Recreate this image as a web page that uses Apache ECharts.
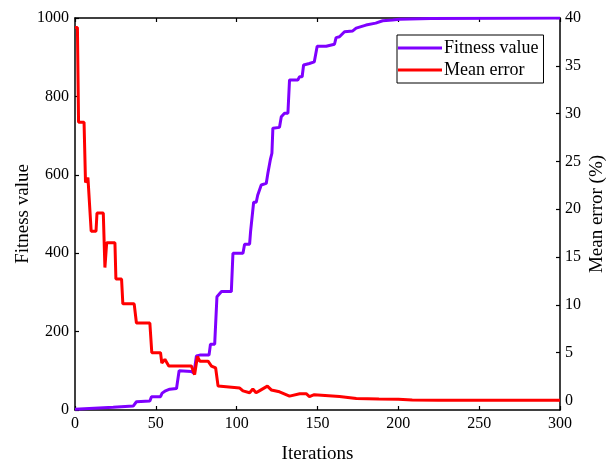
<!DOCTYPE html>
<html>
<head>
<meta charset="utf-8">
<script src="https://cdn.jsdelivr.net/npm/echarts@6/dist/echarts.min.js"></script>
<style>
  html, body { margin: 0; padding: 0; background: #fff; }
  #chart { width: 606px; height: 461px; }
</style>
</head>
<body>
<div id="chart"></div>
<script>
// fitness value (left axis)
const fitIter = [0, 23.6, 36, 38, 46.3, 47.3, 52.9, 53.9, 55.6, 58.6, 62.8, 64.4, 72, 73.6, 75.1, 77.2, 82.9, 83.8, 86.4, 87.8, 90.6, 96.7, 97.7, 103.9, 104.9, 108, 108.6, 109.7, 110.5, 112.1, 113, 114.2, 115.2, 118.3, 119.3, 120.8, 121.8, 122.4, 126.5, 127.6, 129.6, 131.7, 132.7, 137.8, 138.9, 140.5, 141.4, 145, 148, 149.8, 155.4, 156.4, 160.5, 161.5, 163.6, 166.7, 171.8, 173.9, 180, 186, 190.3, 196.5, 200.6, 220, 300];
const fitVal = [2, 7, 10, 21, 23, 34, 34, 43, 48, 53, 55, 100, 98, 94, 138, 140, 140, 168, 168, 289, 302, 302, 400, 400, 423, 423, 455, 455, 530, 530, 548, 548, 574, 578, 604, 638, 655, 719, 721, 748, 757, 757, 842, 842, 850, 850, 880, 884, 888, 928, 928, 933, 933, 950, 952, 965, 967, 974, 982, 987, 993, 995, 997, 999, 1000];

// mean error in % (right axis)
const errIter = [0, 1.5, 2.2, 5.6, 6.5, 8, 9, 10, 13, 13.6, 17.5, 18.5, 19.6, 24.7, 25.3, 28.8, 29.6, 36.6, 38, 46.3, 47.5, 52.9, 53.7, 55.6, 58, 64, 65, 72, 74, 75.7, 77.2, 82.3, 84.4, 87, 88.5, 101.9, 103.9, 108, 110, 112, 114, 119, 121.4, 126.5, 132.7, 139, 143, 145, 148, 163.6, 174, 188, 200, 208.6, 225, 300];
const errVal = [39, 39, 29.1, 29.1, 22.8, 23.3, 23.3, 17.7, 17.7, 19.6, 19.6, 13.9, 16.5, 16.5, 12.7, 12.7, 10.1, 10.1, 8.1, 8.1, 5.0, 5.0, 3.9, 4.3, 3.6, 3.6, 3.8, 3.6, 2.7, 4.6, 4.1, 4.1, 3.6, 3.4, 1.5, 1.3, 1.0, 0.8, 1.2, 0.8, 1.0, 1.5, 1.1, 0.9, 0.45, 0.7, 0.7, 0.4, 0.6, 0.4, 0.2, 0.15, 0.12, 0.05, 0.03, 0.03];

const errTicks = [0, 5, 10, 15, 20, 25, 30, 35, 40];

const font = 'Liberation Serif';
const zip = (xs, ys) => xs.map((x, i) => [x, ys[i]]);

const axisLine = { show: true, onZero: false, lineStyle: { color: '#000', width: 1.5 } };
const tick = { show: true, inside: true, length: 4, lineStyle: { color: '#000', width: 1.2 } };
const label = { color: '#000', fontFamily: font, fontSize: 16 };
const nameStyle = { color: '#000', fontFamily: font, fontSize: 19 };

const chart = echarts.init(document.getElementById('chart'));
chart.setOption({
  animation: false,
  backgroundColor: '#fff',
  grid: { left: 75, right: 46, top: 18, bottom: 51, containLabel: false, outerBoundsMode: 'none' },
  legend: {
    orient: 'vertical',
    left: 397,
    top: 35,
    backgroundColor: '#fff',
    borderColor: '#000',
    borderWidth: 1,
    padding: [3, 5, 3, 1],
    icon: 'rect',
    itemWidth: 44,
    itemHeight: 3,
    itemGap: 2,
    textStyle: { color: '#000', fontFamily: font, fontSize: 18, lineHeight: 20, padding: [0, 0, 0, -3] },
    data: ['Fitness value', 'Mean error']
  },
  xAxis: [
    {
      type: 'value', min: 0, max: 300, interval: 50,
      name: 'Iterations', nameLocation: 'middle', nameGap: 35, nameMoveOverlap: false,
      nameTextStyle: nameStyle,
      axisLine: axisLine, axisTick: tick,
      axisLabel: Object.assign({ margin: 6 }, label),
      splitLine: { show: false }
    },
    {
      type: 'value', position: 'top', min: 0, max: 300, interval: 50,
      axisLine: axisLine, axisTick: tick, axisLabel: { show: false },
      splitLine: { show: false }
    }
  ],
  yAxis: [
    {
      type: 'value', position: 'left', min: 0, max: 1000, interval: 200,
      name: 'Fitness value', nameLocation: 'middle', nameGap: 42, nameRotate: 90, nameMoveOverlap: false,
      nameTextStyle: nameStyle,
      axisLine: axisLine, axisTick: tick,
      axisLabel: Object.assign({ margin: 6, formatter: v => String(v) }, label),
      splitLine: { show: false }
    },
    {
      type: 'value', position: 'right', min: -1, max: 40,
      name: 'Mean error (%)', nameLocation: 'middle', nameGap: 28, nameRotate: 90, nameMoveOverlap: false,
      nameTextStyle: nameStyle,
      axisLine: axisLine,
      axisTick: Object.assign({ customValues: errTicks }, tick),
      axisLabel: Object.assign({ margin: 5, customValues: errTicks }, label),
      splitLine: { show: false }
    }
  ],
  series: [
    {
      name: 'Fitness value', type: 'line', xAxisIndex: 0, yAxisIndex: 0,
      data: zip(fitIter, fitVal), showSymbol: false, symbol: 'none',
      lineStyle: { color: '#7f00ff', width: 3 }, itemStyle: { color: '#7f00ff' }
    },
    {
      name: 'Mean error', type: 'line', xAxisIndex: 0, yAxisIndex: 1,
      data: zip(errIter, errVal), showSymbol: false, symbol: 'none',
      lineStyle: { color: '#ff0000', width: 3 }, itemStyle: { color: '#ff0000' }
    }
  ]
});
</script>
</body>
</html>
